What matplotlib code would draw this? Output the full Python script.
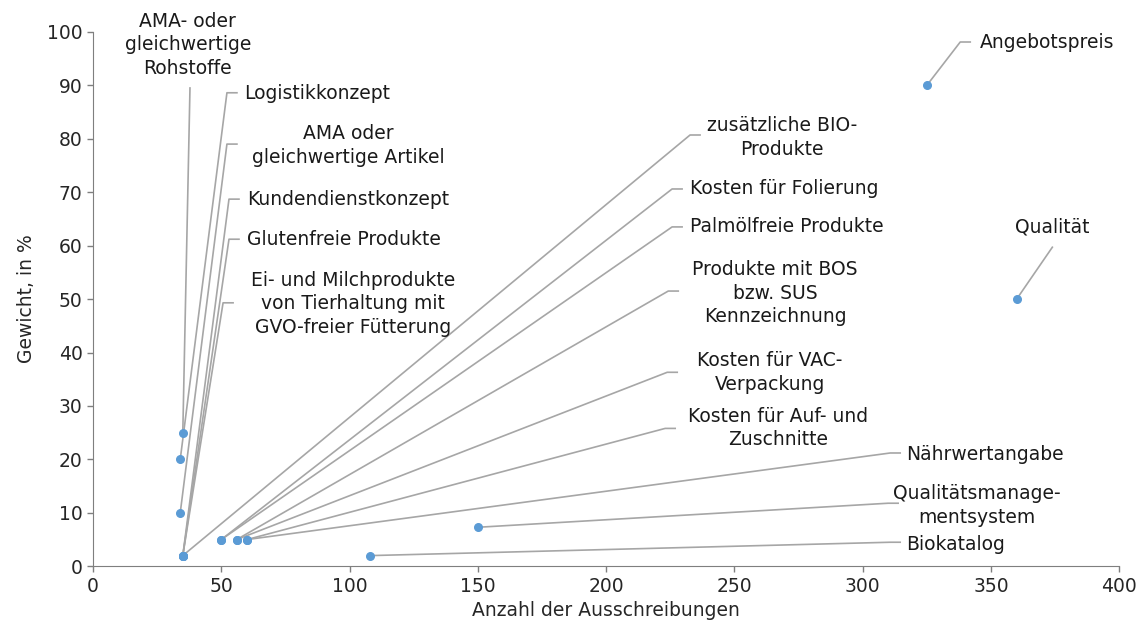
import matplotlib.pyplot as plt

plt.rcParams['font.family'] = ['DejaVu Sans']

# criteria: number of tenders vs. weight in %
names = [
    'Angebotspreis', 'Qualität',
    'AMA- oder\ngleichwertige\nRohstoffe', 'Logistikkonzept',
    'AMA oder\ngleichwertige Artikel', 'Kundendienstkonzept',
    'Glutenfreie Produkte',
    'Ei- und Milchprodukte\nvon Tierhaltung mit\nGVO-freier Fütterung',
    'zusätzliche BIO-\nProdukte', 'Kosten für Folierung',
    'Palmölfreie Produkte', 'Produkte mit BOS\nbzw. SUS\nKennzeichnung',
    'Kosten für VAC-\nVerpackung', 'Kosten für Auf- und\nZuschnitte',
    'Nährwertangabe', 'Qualitätsmanage-\nmentsystem', 'Biokatalog',
]
anzahl = [325, 360, 35, 34, 34, 35, 35, 35, 35, 50, 50, 56, 56, 60, 60, 150, 108]
gewicht = [90, 50, 25, 20, 10, 2, 2, 2, 2, 5, 5, 5, 5, 5, 5, 7.3, 2]

# label placement: leader elbow, text anchor, alignment, tick
elbow = [(338, 98.1), (373.9, 59.7), (37.8, 89.5), (52.2, 88.6),
         (52.2, 79.0), (53.0, 68.7), (53.0, 61.2), (50.7, 49.3),
         (232.7, 80.7), (225.7, 70.6), (225.7, 63.5), (224.2, 51.5),
         (223.8, 36.3), (223.0, 25.8), (310.7, 21.2), (309.9, 11.8),
         (310.7, 4.5)]
textpos = [(345.5, 98.1), (373.9, 63.4), (37.0, 97.6), (58.8, 88.4),
           (99.4, 78.7), (60.0, 68.7), (60.0, 61.2), (101.4, 49.1),
           (268.6, 80.2), (232.6, 70.6), (232.6, 63.5), (265.9, 51.1),
           (263.9, 36.3), (266.9, 25.9), (317.0, 21.0), (344.6, 11.4),
           (317.0, 4.1)]
ha = ['left', 'center', 'center', 'left', 'center', 'left', 'left', 'center',
      'center', 'left', 'left', 'center', 'center', 'center', 'left',
      'center', 'left']
tick = [True, False, False, True, True, True, True, True, True, True, True,
        True, True, True, True, True, True]

fig, ax = plt.subplots(figsize=(11.41, 6.37), dpi=100)
fig.subplots_adjust(left=0.0815, right=0.981, top=0.95, bottom=0.111)

grey = '#A6A6A6'
for i in range(len(names)):
    ex, ey = elbow[i]
    xs = [anzahl[i], ex]
    ys = [gewicht[i], ey]
    if tick[i]:
        xs.append(ex + 3.9)
        ys.append(ey)
    ax.plot(xs, ys, color=grey, lw=1.2, zorder=1, clip_on=False)
    tx, ty = textpos[i]
    ax.text(tx, ty, names[i], ha=ha[i], va='center', fontsize=13.5,
            linespacing=1.3, color='#1a1a1a', multialignment='center')

ax.scatter(anzahl, gewicht, s=30, color='#5B9BD5', zorder=3, clip_on=False)

ax.set_xlim(0, 400)
ax.set_ylim(0, 100)
ax.set_xticks(range(0, 401, 50))
ax.set_yticks(range(0, 101, 10))
ax.tick_params(labelsize=13.5, colors='#7f7f7f', labelcolor='#262626',
               length=4, width=1)
ax.set_xlabel('Anzahl der Ausschreibungen', fontsize=13.5, color='#262626',
              labelpad=4)
ax.set_ylabel('Gewicht, in %', fontsize=13.5, color='#262626', labelpad=8)
for s in ['top', 'right']:
    ax.spines[s].set_visible(False)
for s in ['left', 'bottom']:
    ax.spines[s].set_color('#7f7f7f')

fig.savefig('out.png', dpi=100)
